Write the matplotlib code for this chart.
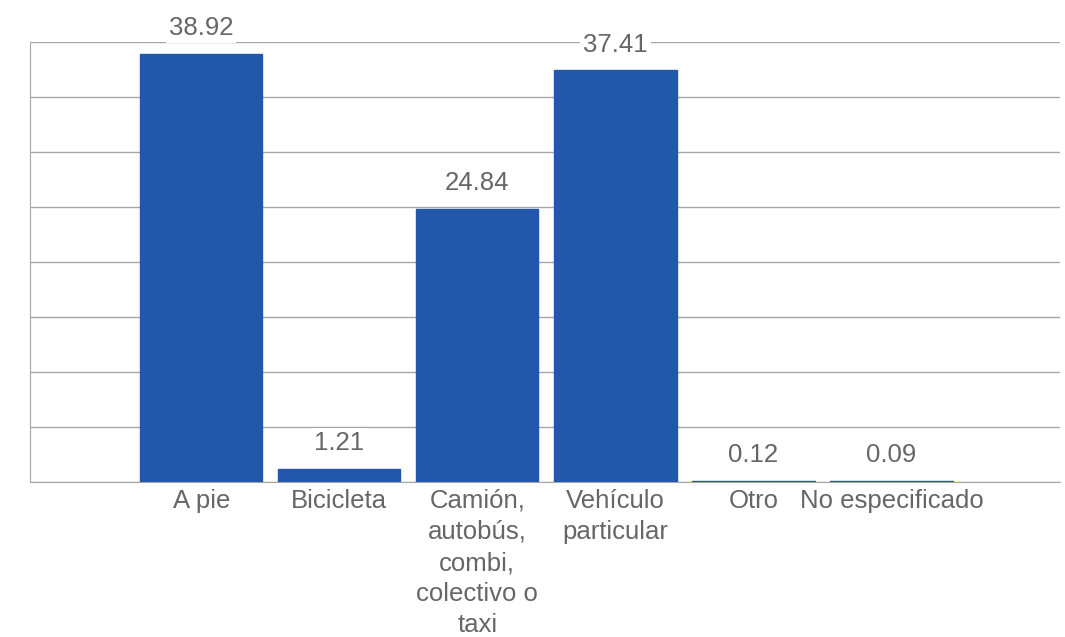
import matplotlib.pyplot as plt
import numpy as np

categorias = ["A pie", "Bicicleta", "Camión,\nautobús,\ncombi,\ncolectivo o\ntaxi",
              "Vehículo\nparticular", "Otro", "No especificado"]
valores = [38.92, 1.21, 24.84, 37.41, 0.12, 0.09]
etiquetas = ["38.92", "1.21", "24.84", "37.41", "0.12", "0.09"]

plt.rcParams['font.family'] = ['Liberation Sans', 'DejaVu Sans']
gris = '#666666'
azul = '#2257ab'

fig = plt.figure(figsize=(10.65, 6.37), dpi=100)
ax = fig.add_axes([30/1065, (637-482)/637, 1030/1065, 440/637])

x = np.arange(len(categorias))
ax.bar(x, valores, width=0.885, color=azul, edgecolor=azul, linewidth=1, zorder=3)

for xi, v, t in zip(x, valores, etiquetas):
    ax.annotate(t, (xi, v), xytext=(0, 10), textcoords='offset points',
                ha='center', va='bottom', fontsize=18.5, color=gris, zorder=4,
                bbox=dict(facecolor='white', edgecolor='none', pad=2))

ax.set_ylim(0, 40)
ax.set_xlim(-1.24, 6.22)
ax.set_yticks(np.arange(0, 41, 5))
ax.yaxis.grid(True, color='#a6a6a6', linewidth=1, zorder=0)
ax.set_axisbelow(True)
ax.tick_params(axis='y', left=False, labelleft=False)
ax.tick_params(axis='x', length=0, pad=5)
ax.set_xticks(x)
ax.set_xticklabels(categorias, fontsize=18.5, color=gris, linespacing=1.37)
for s in ['top', 'right']:
    ax.spines[s].set_visible(False)
ax.spines['left'].set_color('#a6a6a6')
ax.spines['bottom'].set_color('#a6a6a6')
ax.spines['bottom'].set_zorder(1)

fig.savefig('out.png', dpi=100)
